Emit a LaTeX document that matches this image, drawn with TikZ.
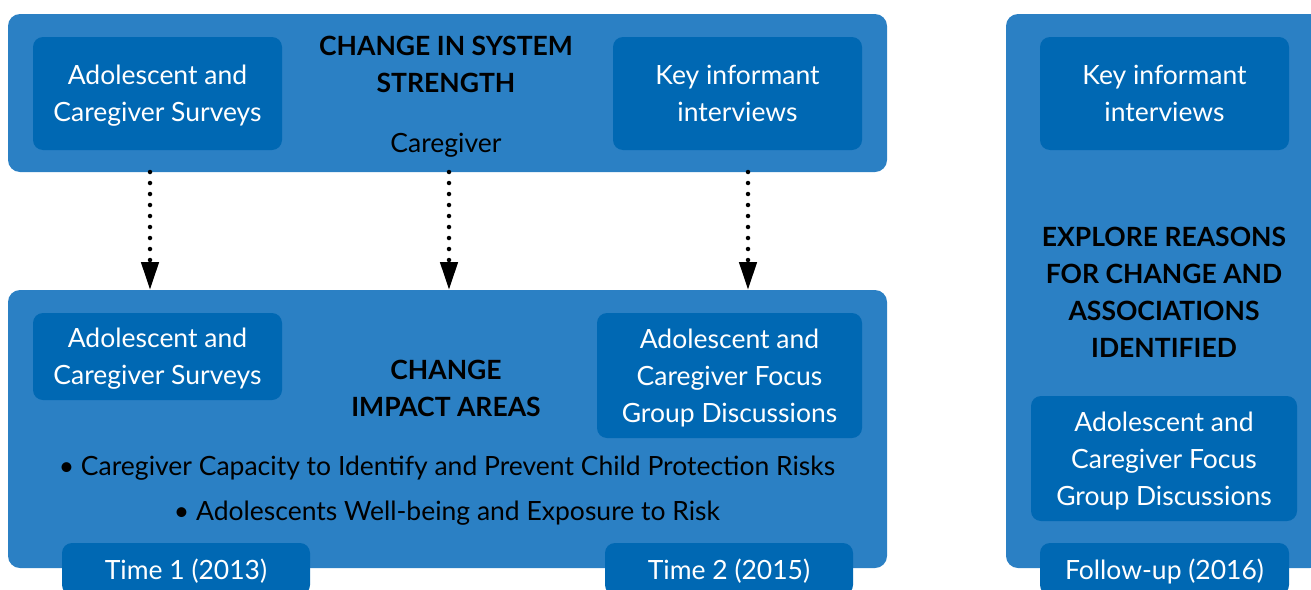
\documentclass[tikz,border=0pt]{standalone}
\usepackage{fontspec}
\setmainfont{Lato}
\usetikzlibrary{arrows.meta,positioning}
\definecolor{panelColor}{HTML}{2B80C4}
\definecolor{boxColor}{HTML}{0068B3}
\tikzset{
	panel/.style={fill=panelColor, rounded corners=12pt, inner sep=0, outer sep=0},
	src/.style={fill=boxColor, rounded corners=10pt, text=white, align=center, inner sep=0, outer sep=0, text depth=0pt},
	heading/.style={font=\fontsize{26.5}{37}\selectfont\bfseries, align=center},
	flow/.style={line width=4.5pt, line cap=round, dash pattern=on 0pt off 11pt,
		-{Triangle[width=17pt,length=28pt]}}
}

\begin{document}
\begin{tikzpicture}[x=1pt,y=-1pt,font=\fontsize{26.5}{37}\selectfont]
	\useasboundingbox (0,0) rectangle (1311,589);
	\clip (0,0) rectangle (1311,589);
	
	\node[panel, minimum width=879pt, minimum height=158pt] (sys) at (447.5, 93) {};
	\node[panel, minimum width=879pt, minimum height=278pt] (impact) at (447.5, 429) {};
	\node[panel, minimum width=316pt, minimum height=554pt] (reasons) at (1164, 291) {};
	
	\node[src, minimum width=249pt, minimum height=113pt] (sysSurv) at (157.5, 93.5) {Adolescent and\\Caregiver Surveys};
	\node[src, minimum width=249pt, minimum height=113pt] (sysKI) at (737.5, 93.5) {Key informant\\interviews};
	\node[heading] (sysTitle) at (446, 64) {CHANGE IN SYSTEM\\STRENGTH};
	\node (sysCare) at (446, 145) {Caregiver};
	
	\node[src, minimum width=249pt, minimum height=87pt] (impSurv) at (157.5, 356.5) {Adolescent and\\Caregiver Surveys};
	\node[src, minimum width=265pt, minimum height=125pt] (impFGD) at (729.5, 375.5) {Adolescent and\\Caregiver Focus\\Group Discussions};
	\node[heading] (impTitle) at (446, 388) {CHANGE\\IMPACT AREAS};
	\node (impRisk1) at (447, 468) {\textbullet{} Caregiver Capacity to Identify and Prevent Child Protection Risks};
	\node (impRisk2) at (447, 513) {\textbullet{} Adolescents Well-being and Exposure to Risk};
	
	\node[src, minimum width=249pt, minimum height=113pt] (resKI) at (1164.5, 93.5) {Key informant\\interviews};
	\node[heading] (resTitle) at (1164, 292.5) {EXPLORE REASONS\\FOR CHANGE AND\\ASSOCIATIONS\\IDENTIFIED};
	\node[src, minimum width=266pt, minimum height=125pt] (resFGD) at (1164, 458.5) {Adolescent and\\Caregiver Focus\\Group Discussions};
	
	% time tabs, cut off at the bottom edge
	\node[src, minimum width=248pt, minimum height=52pt] (t1) at (186, 569) {Time 1 (2013)};
	\node[src, minimum width=248pt, minimum height=52pt] (t2) at (729, 569) {Time 2 (2015)};
	\node[src, minimum width=249pt, minimum height=52pt] (t3) at (1164.5, 569) {Follow-up (2016)};
	
	\path[flow] (sys.south -| 150,0) edge (impact.north -| 150,0);
	\path[flow] (sys.south -| 449,0) edge (impact.north -| 449,0);
	\path[flow] (sys.south -| 748,0) edge (impact.north -| 748,0);
\end{tikzpicture}
\end{document}
